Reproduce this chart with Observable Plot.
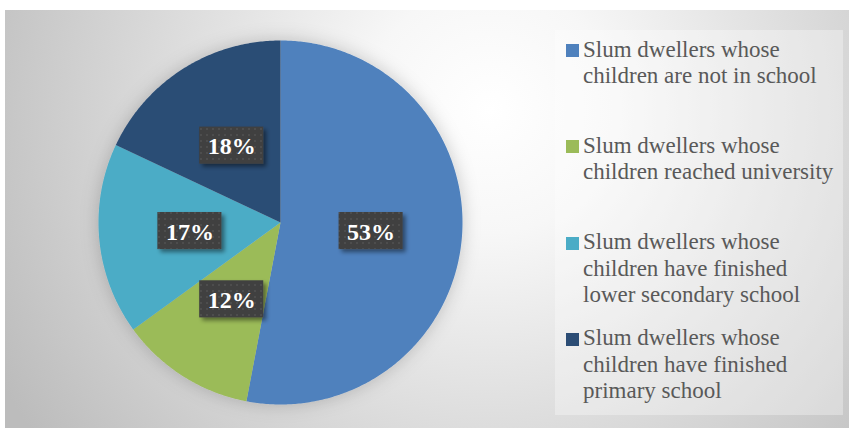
<!DOCTYPE html>
<html>
<head>
<meta charset="utf-8">
<script src="https://cdn.jsdelivr.net/npm/d3@7"></script>
<script src="https://cdn.jsdelivr.net/npm/@observablehq/plot@0.6"></script>
<style>
  html, body { margin: 0; padding: 0; background: #fff; }
  #wrap { position: relative; width: 849px; height: 428px; }
  #kpanel { position: absolute; left: 555px; top: 30px; width: 288px; height: 385px;
    background: rgba(255,255,255,0.32); color: #595959; }
  .kit { position: absolute; left: 28px; font-size: 23px; line-height: 26.5px; white-space: nowrap; }
  .ksw { position: absolute; left: -17px; top: 7.5px; width: 13px; height: 13px; }
</style>
</head>
<body>
<div id="wrap"></div>
<script>
const categories = [
  "Slum dwellers whose children are not in school",
  "Slum dwellers whose children reached university",
  "Slum dwellers whose children have finished lower secondary school",
  "Slum dwellers whose children have finished primary school"
];
const legendLines = [
  ["Slum dwellers whose", "children are not in school"],
  ["Slum dwellers whose", "children reached university"],
  ["Slum dwellers whose", "children have finished", "lower secondary school"],
  ["Slum dwellers whose", "children have finished", "primary school"]
];
const values = [53, 12, 17, 18];
const labels = ["53%", "12%", "17%", "18%"];
const colors = ["#4F81BD", "#9BBB59", "#4BACC6", "#2C4D75"];
const SERIF = "'Liberation Serif', 'Times New Roman', Georgia";

const arcs = d3.pie().sort(null).value(d => d)(values);
const slices = [];
arcs.forEach((a, i) => {
  slices.push({cat: categories[i], x: 0, y: 0});
  const n = Math.max(2, Math.ceil((a.endAngle - a.startAngle) / 0.01));
  for (let k = 0; k <= n; k++) {
    const t = a.startAngle + (a.endAngle - a.startAngle) * k / n;
    slices.push({cat: categories[i], x: Math.sin(t), y: Math.cos(t)});
  }
});
const boxW = 0.176, boxH = 0.102, lr = 0.5;
const labelData = arcs.map((a, i) => {
  const m = (a.startAngle + a.endAngle) / 2;
  const x = lr * Math.sin(m), y = lr * Math.cos(m);
  return {label: labels[i], x, y, x1: x - boxW, x2: x + boxW, y1: y - boxH, y2: y + boxH};
});

const svg = Plot.plot({
  width: 849, height: 428,
  marginLeft: 98, marginRight: 387, marginTop: 40, marginBottom: 24,
  x: {domain: [-1, 1], axis: null},
  y: {domain: [-1, 1], axis: null},
  color: {domain: categories, range: colors},
  style: {background: "transparent", overflow: "visible"},
  marks: [
    Plot.line(slices, {x: "x", y: "y", z: "cat", fill: "cat", stroke: "none", curve: "linear-closed"}),
    Plot.rect(labelData, {x1: "x1", x2: "x2", y1: "y1", y2: "y2", fill: "url(#dots)"}),
    Plot.text(labelData, {x: "x", y: "y", text: "label", fill: "white", fontSize: 24, fontWeight: "bold",
      fontFamily: SERIF, dy: 1})
  ]
});

const s = d3.select(svg);
const defs = s.insert("defs", ":first-child");
const rg = defs.append("radialGradient").attr("id", "bg").attr("gradientUnits", "userSpaceOnUse")
  .attr("cx", 490).attr("cy", 110).attr("r", 560);
rg.append("stop").attr("offset", "0").attr("stop-color", "#ffffff");
rg.append("stop").attr("offset", "0.22").attr("stop-color", "#f7f7f7");
rg.append("stop").attr("offset", "1").attr("stop-color", "#bcbcbc");
const pat = defs.append("pattern").attr("id", "dots").attr("patternUnits", "userSpaceOnUse")
  .attr("width", 6).attr("height", 6);
pat.append("rect").attr("width", 6).attr("height", 6).attr("fill", "#404040");
pat.append("rect").attr("x", 2).attr("y", 2).attr("width", 2).attr("height", 2).attr("fill", "#4d4d4d");
const sh = defs.append("filter").attr("id", "boxshadow").attr("x", "-20%").attr("y", "-20%").attr("width", "150%").attr("height", "150%");
sh.append("feDropShadow").attr("dx", 3).attr("dy", 3).attr("stdDeviation", 2).attr("flood-color", "#000").attr("flood-opacity", 0.45);
const ps = defs.append("filter").attr("id", "pieshadow").attr("x", "-20%").attr("y", "-20%").attr("width", "140%").attr("height", "140%");
ps.append("feDropShadow").attr("dx", 0).attr("dy", 0).attr("stdDeviation", 9).attr("flood-color", "#000").attr("flood-opacity", 0.2);

s.insert("rect", "defs + *").attr("x", 5).attr("y", 10).attr("width", 844).attr("height", 418).attr("fill", "url(#bg)");
s.insert("rect", "defs + *").attr("x", 5).attr("y", 10).attr("width", 844).attr("height", 1.5).attr("fill", "#c4c4c4");
s.select("g[aria-label='line']").attr("filter", "url(#pieshadow)");
s.select("g[aria-label='rect']").attr("filter", "url(#boxshadow)");
s.selectAll("g[aria-label='text'], g[aria-label='text'] text").each(function() {
  this.style.setProperty("font-family", SERIF, "important");
});

const wrap = document.getElementById("wrap");
wrap.appendChild(svg);
const leg = document.createElement("div");
leg.id = "kpanel";
legendLines.forEach((lines, i) => {
  const it = document.createElement("div");
  it.className = "kit";
  it.style.top = (6.5 + 96.3 * i) + "px";
  it.style.setProperty("font-family", SERIF, "important");
  const sw = document.createElement("div");
  sw.className = "ksw";
  sw.style.background = colors[i];
  it.appendChild(sw);
  lines.forEach(l => {
    const d = document.createElement("div");
    d.textContent = l;
    d.style.setProperty("font-family", SERIF, "important");
    it.appendChild(d);
  });
  leg.appendChild(it);
});
wrap.appendChild(leg);
svg.style.position = "absolute";
svg.style.left = "0"; svg.style.top = "0";
</script>
</body>
</html>
